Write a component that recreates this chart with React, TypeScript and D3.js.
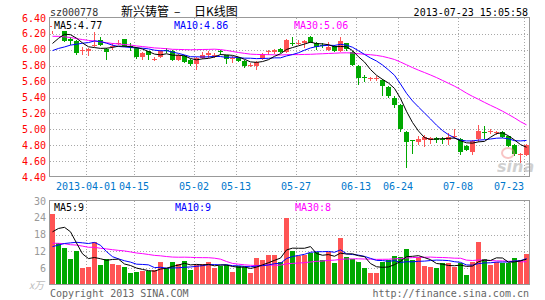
import React from 'react';
import * as d3 from 'd3';

// ---------- data ----------
const dates = [
  '03-22','03-25','03-26','03-27','03-28','03-29',
  '04-01','04-02','04-03','04-08','04-09','04-10','04-11','04-12',
  '04-15','04-16','04-17','04-18','04-19','04-22','04-23','04-24','04-25','04-26',
  '05-02','05-03','05-06','05-07','05-08','05-09','05-10',
  '05-13','05-14','05-15','05-16','05-17','05-20','05-21','05-22','05-23','05-24',
  '05-27','05-28','05-29','05-30','05-31','06-03','06-04','06-05','06-06','06-07',
  '06-13','06-14','06-17','06-18','06-19','06-20','06-21',
  '06-24','06-25','06-26','06-27','06-28','07-01','07-02','07-03','07-04','07-05',
  '07-08','07-09','07-10','07-11','07-12','07-15','07-16','07-17','07-18','07-19',
  '07-22','07-23'
];
const opens = [6.29,6.33,6.26,6.13,6.11,5.99,5.99,6.05,6.12,6.01, 6.04,6.08,6.13,6.05,6.02,5.91,5.98,5.88,5.91,6.00, 5.99,5.87,5.92,5.87,5.82,5.90,5.93,5.92,5.98,5.93, 5.89,5.90,5.86,5.80,5.80,5.88,5.97,5.97,6.01,5.97, 6.08,6.08,6.09,6.16,6.08,6.06,6.00,6.05,5.98,6.08, 5.97,5.80,5.66,5.63,5.64,5.62,5.53,5.39,5.31,4.97, 4.86,4.84,4.87,4.87,4.89,4.88,4.87,4.91,4.88,4.79, 4.72,4.88,4.96,4.96,4.96,4.96,4.91,4.80,4.69,4.68];
const closes = [6.30,6.25,6.11,6.11,5.96,6.00,6.01,6.06,6.06,5.97, 6.05,6.09,6.05,6.04,5.91,5.96,5.93,5.89,5.99,5.98, 5.87,5.93,5.85,5.82,5.90,5.93,5.96,5.94,5.97,5.88, 5.90,5.86,5.79,5.81,5.85,5.95,5.98,6.00,5.97,6.12, 6.07,6.09,6.11,6.09,6.03,6.05,6.04,5.98,6.11,6.01, 5.81,5.65,5.65,5.64,5.65,5.55,5.42,5.31,5.01,4.84, 4.85,4.88,4.90,4.89,4.87,4.87,4.90,4.92,4.72,4.74, 4.85,4.98,4.95,4.98,4.97,4.90,4.79,4.69,4.69,4.80];
const highs = [6.35,6.35,6.27,6.16,6.12,6.03,6.02,6.22,6.16,6.02, 6.08,6.12,6.14,6.09,6.03,5.97,5.99,5.91,6.00,6.02, 6.00,5.95,5.93,5.88,5.91,5.97,5.98,5.96,6.00,5.94, 5.92,5.91,5.87,5.84,5.86,5.96,6.00,6.01,6.02,6.13, 6.16,6.12,6.12,6.17,6.10,6.08,6.10,6.06,6.16,6.09, 5.98,5.81,5.68,5.66,5.67,5.63,5.54,5.42,5.32,4.98, 4.87,4.92,4.93,4.90,4.90,4.90,4.95,5.00,4.89,4.80, 4.86,5.05,5.04,5.00,4.98,4.98,4.92,4.81,4.70,4.81];
const lows = [6.20,6.24,6.10,6.06,5.94,5.94,5.92,6.04,6.05,5.87, 6.00,6.06,6.04,5.98,5.89,5.87,5.87,5.86,5.90,5.96, 5.86,5.86,5.84,5.80,5.74,5.88,5.90,5.90,5.94,5.82, 5.83,5.85,5.77,5.78,5.75,5.87,5.93,5.95,5.96,5.96, 6.05,6.06,6.02,6.08,6.00,6.02,5.99,5.97,5.97,5.98, 5.79,5.56,5.60,5.61,5.61,5.42,5.40,5.27,4.97,4.51, 4.69,4.80,4.78,4.81,4.83,4.82,4.80,4.88,4.68,4.73, 4.68,4.84,4.88,4.94,4.93,4.89,4.78,4.67,4.57,4.66];
const volumes = [25.4,14.9,13.3,9.3,12.1,6.0,6.5,15.2,7.1,9.3, 7.5,7.1,6.5,4.4,4.8,5.0,5.0,5.4,8.3,6.2, 8.3,7.4,8.6,5.4,7.1,7.4,8.3,6.0,6.9,7.1, 4.8,6.9,6.5,4.2,9.5,8.9,10.7,10.7,8.3,24.0, 12.1,10.5,10.7,11.3,11.7,8.9,11.7,7.7,16.9,10.1, 9.3,8.3,6.2,4.4,4.4,8.3,8.9,10.4,10.1,12.9, 8.9,10.1,6.9,6.5,6.0,7.7,7.7,6.5,7.7,3.6, 8.3,15.5,9.3,7.1,8.3,8.0,8.0,9.8,9.0,11.2];
// sessions before the visible window (only used for the moving averages)
const priorCloses = [6.28,6.30,6.35,6.38,6.36,6.33,6.30,6.34,6.32,6.32, 6.30,6.26,6.22,6.25,6.20,6.18,6.15,6.12,6.14,6.10, 5.98,5.92,5.88,5.85,5.87, 5.93,5.85,6.14,6.18];
const priorVolumes = [15,18,20,16,17,19,15,18,16,16, 14,13,15,16,12,14,15,13,14,14, 9,8,7,10,8, 8.9,11.3,17.3,32.1];

const priceTicks = [6.4,6.2,6.0,5.8,5.6,5.4,5.2,5.0,4.8,4.6,4.4];
const volumeTicks = [30,24,18,12,6];
const labelDates = ['04-01','04-15','05-02','05-13','05-27','06-13','06-24','07-08','07-23'];
const labelTexts = ['2013-04-01','04-15','05-02','05-13','05-27','06-13','06-24','07-08','07-23'];

const code = 'sz000778';
const titleName = '新兴铸管';
const titleKind = '日K线图';
const stamp = '2013-07-23 15:05:58';

// ---------- layout ----------
const W = 545, H = 300;
const L = 50, R = 530;
const PT = 18, PB = 177;
const VT = 201, VB = 285;
const RED = '#ff5454';
const GREEN = '#00a800';
const GRID = '#a8a8a8';
const FRAME = '#999999';
const MONO = '"DejaVu Sans Mono", "Liberation Mono", monospace';

function movingAvg(prior: number[], vals: number[], n: number) {
  const all = prior.concat(vals);
  const off = prior.length;
  return vals.map((_, i) => d3.mean(all.slice(off + i - n + 1, off + i + 1)) as number);
}

export default function App() {
  const n = dates.length;
  const x = d3.scaleLinear().domain([0, n]).range([L, R]);
  const y = d3.scaleLinear().domain([4.4, 6.4]).range([PB, PT]);
  const vy = d3.scaleLinear().domain([0, 30]).range([VB, VT]);
  const cx = (i: number) => x(i) + 2.5;

  const ma5 = movingAvg(priorCloses, closes, 5);
  const ma10 = movingAvg(priorCloses, closes, 10);
  const ma30 = movingAvg(priorCloses, closes, 30);
  const vma5 = movingAvg(priorVolumes, volumes, 5);
  const vma10 = movingAvg(priorVolumes, volumes, 10);
  const vma30 = movingAvg(priorVolumes, volumes, 30);

  const pLine = d3.line<number>().x((_, i) => cx(i)).y(d => y(d));
  const vLine = d3.line<number>().x((_, i) => cx(i)).y(d => vy(d));

  const gridXs = labelDates.map(d => x(dates.indexOf(d)));

  const rnd = (v: number) => Math.round(v);
  const fmt2 = (v: number) => (Math.round(v * 100 + 1e-6) / 100).toFixed(2);

  return (
    <svg width={W} height={H} style={{ position: 'absolute', left: 0, top: 0, background: '#fff' }}
      xmlns="http://www.w3.org/2000/svg">
      <rect x={0} y={0} width={W} height={H} fill="#fff" />
      {/* header */}
      <text x={50} y={16} fontFamily={MONO} fontSize={10} fill="#333">{code}</text>
      <text y={16} fontFamily='"Noto Sans CJK SC", sans-serif' fontSize={12} fill="#000">
        <tspan x={121}>{titleName}</tspan>
        <tspan x={174}>–</tspan>
        <tspan x={194}>{titleKind}</tspan>
      </text>
      <text x={528} y={16} textAnchor="end" fontFamily={MONO} fontSize={10} fill="#000">{stamp}</text>

      {/* price grid */}
      {priceTicks.slice(1, -1).map(t => (
        <line key={'pg' + t} x1={L} x2={R} y1={rnd(y(t)) + 0.5} y2={rnd(y(t)) + 0.5}
          stroke={GRID} strokeDasharray="1,2" />
      ))}
      {gridXs.map((gx, k) => (
        <line key={'vg' + k} x1={gx + 0.5} x2={gx + 0.5} y1={PT} y2={PB} stroke={GRID} strokeDasharray="1,2" />
      ))}
      {/* price labels */}
      {priceTicks.map(t => (
        <text key={'pl' + t} x={46} y={y(t) + 3.5} textAnchor="end" fontFamily={MONO} fontSize={10} fill="#ff0000">
          {t.toFixed(2)}
        </text>
      ))}

      {/* candles */}
      {dates.map((d, i) => {
        const up = closes[i] >= opens[i];
        const col = up ? RED : GREEN;
        const top = rnd(y(Math.max(opens[i], closes[i])));
        const bot = rnd(y(Math.min(opens[i], closes[i])));
        const hgt = Math.max(1, bot - top);
        return (
          <g key={'c' + i} shapeRendering="crispEdges">
            <line x1={x(i) + 2.5} x2={x(i) + 2.5} y1={rnd(y(highs[i]))} y2={rnd(y(lows[i]))} stroke={col} />
            <rect x={x(i)} y={top} width={5} height={hgt} fill={col} />
          </g>
        );
      })}

      {/* MAs */}
      <path d={pLine(ma30) || ''} fill="none" stroke="#ff00ff" strokeWidth={1} />
      <path d={pLine(ma10) || ''} fill="none" stroke="#0000ff" strokeWidth={1} />
      <path d={pLine(ma5) || ''} fill="none" stroke="#000000" strokeWidth={1} />

      {/* watermark */}
      <g opacity={0.45}>
        <ellipse cx={508} cy={153} rx={6} ry={5} fill="none" stroke="#f08080" strokeWidth={2} />
        <text x={497} y={172} fontFamily='"DejaVu Sans", sans-serif' fontStyle="italic" fontWeight="bold" fontSize={16} fill="#999">sina</text>
      </g>

      {/* frame */}
      <rect x={L - 0.5} y={PT - 0.5} width={R - L} height={PB - PT} fill="none" stroke={FRAME} shapeRendering="crispEdges" />

      {/* MA labels */}
      <rect x={52} y={20} width={48} height={11} fill="#fff" />
      <text x={54} y={28.5} fontFamily={MONO} fontSize={10} fill="#000">MA5:{fmt2(ma5[n - 1])}</text>
      <text x={174} y={28.5} fontFamily={MONO} fontSize={10} fill="#0000ff">MA10:{fmt2(ma10[n - 1])}</text>
      <text x={294} y={28.5} fontFamily={MONO} fontSize={10} fill="#ff00ff">MA30:{fmt2(ma30[n - 1])}</text>

      {/* x labels */}
      {labelTexts.map((t, k) => {
        const w = t.length * 6.02;
        let c = gridXs[k];
        if (c + w / 2 > 524) c = 524 - w / 2;
        return (
          <text key={'xl' + k} x={c} y={190} textAnchor="middle" fontFamily={MONO} fontSize={10} fill="#0077cc">{t}</text>
        );
      })}

      {/* volume panel */}
      {volumeTicks.slice(1).map(t => (
        <line key={'vgl' + t} x1={L} x2={R} y1={rnd(vy(t)) + 0.5} y2={rnd(vy(t)) + 0.5} stroke={GRID} strokeDasharray="1,2" />
      ))}
      {gridXs.map((gx, k) => (
        <line key={'vvg' + k} x1={gx + 0.5} x2={gx + 0.5} y1={VT} y2={VB} stroke={GRID} strokeDasharray="1,2" />
      ))}
      {volumeTicks.map(t => (
        <text key={'vl' + t} x={46} y={vy(t) + 3.5} textAnchor="end" fontFamily={MONO} fontSize={10} fill="#999">{t}</text>
      ))}
      <text x={29} y={289} fontFamily='"Noto Sans CJK SC", sans-serif' fontSize={10} fill="#bbb" fontStyle="italic">x万</text>
      {volumes.map((v, i) => {
        const up = closes[i] >= opens[i];
        const top = rnd(vy(v));
        return <rect key={'v' + i} x={x(i)} y={top} width={5} height={VB - top} fill={up ? RED : GREEN} shapeRendering="crispEdges" />;
      })}
      <path d={vLine(vma30) || ''} fill="none" stroke="#ff00ff" />
      <path d={vLine(vma10) || ''} fill="none" stroke="#0000ff" />
      <path d={vLine(vma5) || ''} fill="none" stroke="#000" />
      <rect x={L - 0.5} y={VT - 0.5} width={R - L} height={VB - VT} fill="none" stroke={FRAME} shapeRendering="crispEdges" />
      <text x={54} y={211} fontFamily={MONO} fontSize={10} fill="#000">MA5:{Math.round(vma5[n - 1])}</text>
      <text x={175} y={211} fontFamily={MONO} fontSize={10} fill="#0000ff">MA10:{Math.round(vma10[n - 1])}</text>
      <text x={295} y={211} fontFamily={MONO} fontSize={10} fill="#ff00ff">MA30:{Math.round(vma30[n - 1])}</text>

      {/* footer */}
      <text x={50} y={297} fontFamily={MONO} fontSize={10} fill="#666">Copyright 2013 SINA.COM</text>
      <text x={529} y={297} textAnchor="end" fontFamily={MONO} fontSize={10} fill="#666">http://finance.sina.com.cn</text>
    </svg>
  );
}
